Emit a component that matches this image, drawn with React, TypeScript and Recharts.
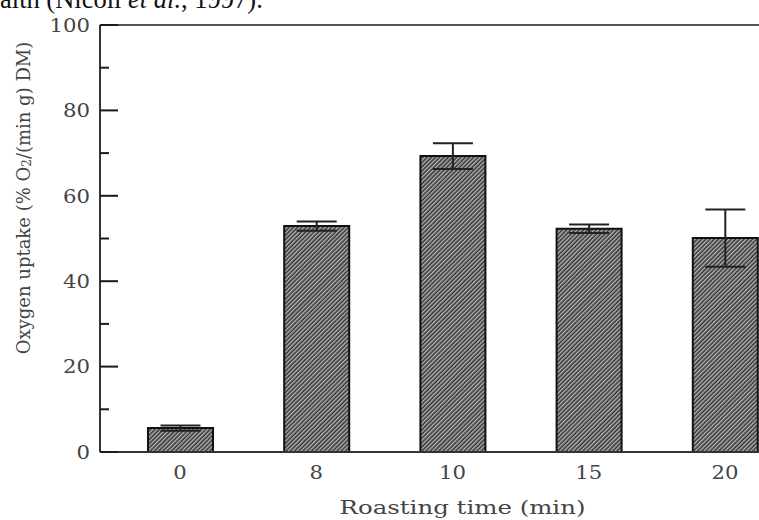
import React from 'react';
import {
  BarChart,
  Bar,
  XAxis,
  YAxis,
  ErrorBar,
  ReferenceLine,
  Label,
} from 'recharts';

// Roasting time categories (min)
const roastingTimes = ['0', '8', '10', '15', '20'];
// Oxygen uptake, % O2/(min g) DM
const uptakeMeans = [5.6, 52.9, 69.3, 52.3, 50.1];
const uptakeErrors = [0.6, 1.1, 3.0, 1.0, 6.7];
const yTicks = [0, 10, 20, 30, 40, 50, 60, 70, 80, 90, 100];

const chartData = roastingTimes.map((t, i) => ({
  time: t,
  uptake: uptakeMeans[i],
  err: uptakeErrors[i],
}));

const FONT = '"DejaVu Serif", serif';
const TEXT = '#444';
const DIGIT_W = 13.5; // the original's digits are wide, stretch them a bit

// y ticks point inwards, minor ones are shorter and unlabeled
const YTick = (props: any) => {
  const { x, y, payload } = props;
  const major = Number(payload.value) % 20 === 0;
  const len = major ? 18 : 9;
  const label = String(payload.value);
  return (
    <g>
      <rect x={x + 10} y={y - 1} width={len} height={2} fill="#1a1a1a" />
      {major ? (
        <text
          x={x}
          y={y}
          dy="0.36em"
          textAnchor="end"
          fontFamily={FONT}
          fontSize={19}
          fill={TEXT}
          textLength={label.length * DIGIT_W}
          lengthAdjust="spacingAndGlyphs"
        >
          {label}
        </text>
      ) : null}
    </g>
  );
};

const XTick = (props: any) => {
  const { x, y, payload } = props;
  const label = String(payload.value);
  return (
    <text
      x={x}
      y={y}
      dy="0.71em"
      textAnchor="middle"
      fontFamily={FONT}
      fontSize={19}
      fill={TEXT}
      textLength={label.length * DIGIT_W}
      lengthAdjust="spacingAndGlyphs"
    >
      {label}
    </text>
  );
};

const YTitle = ({ viewBox }: any) => {
  const cx = viewBox.x + 23;
  const cy = viewBox.y + 173;
  return (
    <text
      x={cx}
      y={cy}
      transform={`rotate(-90 ${cx} ${cy})`}
      textAnchor="middle"
      dominantBaseline="central"
      fontFamily={FONT}
      fontSize={18}
      fill={TEXT}
    >
      Oxygen uptake (% O
      <tspan fontSize={12} dy={4}>2</tspan>
      <tspan dy={-4}>/(min g) DM)</tspan>
    </text>
  );
};

const XTitle = ({ viewBox }: any) => {
  const cx = viewBox.x + viewBox.width / 2 + 16;
  return (
    <text
      x={cx}
      y={514}
      textAnchor="middle"
      fontFamily={FONT}
      fontSize={19}
      fill={TEXT}
      textLength={246}
      lengthAdjust="spacingAndGlyphs"
    >
      Roasting time (min)
    </text>
  );
};

export default function App() {
  return (
    <div
      style={{
        position: 'fixed',
        left: 0,
        top: 0,
        width: 759,
        height: 520,
        overflow: 'hidden',
        background: '#fff',
      }}
    >
      {/* tail of the page text above the figure, cut by the crop */}
      <svg width={759} height={30} style={{ position: 'absolute', left: 0, top: 0 }}>
        <text x={-25} y={8} fontFamily='"Liberation Serif", serif' fontSize={26.5} fill="#111">
          health (Nicoli <tspan fontStyle="italic">et al.</tspan>, 1997).
        </text>
      </svg>
      <BarChart
        width={803}
        height={520}
        data={chartData}
        margin={{ top: 25, right: 10, left: 0, bottom: 0 }}
        barSize={65}
      >
        <defs>
          <pattern
            id="hatch"
            patternUnits="userSpaceOnUse"
            width={3}
            height={3}
            patternTransform="rotate(45)"
          >
            <rect width={3} height={3} fill="#353535" />
            <rect width={1.4} height={3} fill="#b5b5b5" />
          </pattern>
        </defs>
        <XAxis
          dataKey="time"
          height={68}
          padding={{ left: 12, right: 0 }}
          tickLine={false}
          tickSize={0}
          tickMargin={14}
          axisLine={{ stroke: '#333', strokeWidth: 2 }}
          tick={<XTick />}
        >
          <Label content={<XTitle />} />
        </XAxis>
        <YAxis
          width={100}
          domain={[0, 100]}
          ticks={yTicks}
          interval={0}
          tickLine={false}
          tickSize={0}
          tickMargin={10}
          axisLine={{ stroke: '#333', strokeWidth: 2 }}
          tick={<YTick />}
        >
          <Label content={<YTitle />} />
        </YAxis>
        <ReferenceLine y={100} stroke="#555" strokeWidth={2} />
        <Bar
          dataKey="uptake"
          fill="url(#hatch)"
          stroke="#111"
          strokeWidth={2}
          isAnimationActive={false}
        >
          <ErrorBar dataKey="err" width={20} stroke="#222" strokeWidth={2} />
        </Bar>
      </BarChart>
    </div>
  );
}
